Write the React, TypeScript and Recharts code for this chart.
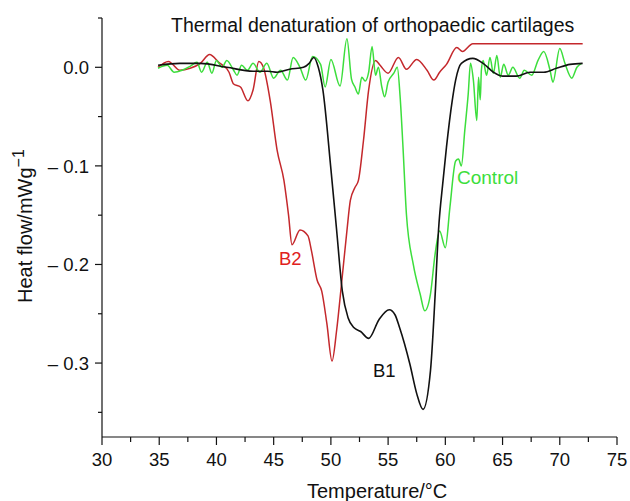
import { LineChart, Line, XAxis, YAxis } from 'recharts';

// B1 curve (black)
const b1Temp = [34.9, 36.8, 38.6, 40.9, 43.2, 44.5, 45.3, 46.4, 47.6, 48.1, 48.5, 48.9, 49.3, 50.0, 50.5, 51.0, 51.5, 52.0, 52.6, 53.3, 54.2, 55.1, 55.6, 56.0, 56.9, 57.5, 58.05, 58.7, 59.1, 59.4, 59.8, 60.1, 60.6, 60.9, 61.4, 62.4, 63.3, 64.2, 65.0, 66.2, 67.4, 68.6, 69.7, 70.9, 72.0];
const b1Flow = [0.002, 0.004, 0.004, 0.0, -0.004, -0.004, -0.005, -0.002, 0.0, 0.004, 0.010, 0.0, -0.023, -0.103, -0.165, -0.227, -0.254, -0.264, -0.268, -0.275, -0.256, -0.246, -0.251, -0.264, -0.301, -0.331, -0.347, -0.308, -0.233, -0.166, -0.115, -0.081, -0.034, -0.013, 0.004, 0.009, 0.004, -0.005, -0.009, -0.009, -0.005, -0.005, -0.001, 0.003, 0.004];

// B2 curve (red)
const b2Temp = [34.9, 35.8, 36.8, 37.7, 38.6, 39.4, 40.2, 41.1, 41.5, 42.1, 42.75, 43.2, 43.7, 44.1, 44.7, 45.3, 45.9, 46.3, 46.6, 47.3, 48.0, 48.3, 48.8, 49.2, 49.65, 50.1, 50.5, 50.96, 51.4, 51.7, 52.1, 52.4, 52.85, 53.3, 53.9, 54.3, 55.0, 55.9, 56.6, 57.5, 58.4, 59.0, 59.5, 60.1, 61.0, 61.5, 62.4, 64.0, 66.0, 68.0, 70.0, 72.0];
const b2Flow = [0.0, 0.006, -0.003, -0.001, 0.004, 0.013, 0.005, -0.005, -0.017, -0.020, -0.034, -0.023, 0.006, 0.0, -0.034, -0.084, -0.115, -0.150, -0.180, -0.165, -0.171, -0.186, -0.216, -0.227, -0.260, -0.298, -0.267, -0.216, -0.166, -0.135, -0.122, -0.115, -0.074, -0.023, 0.007, 0.002, -0.006, 0.010, -0.002, 0.008, -0.003, -0.013, -0.005, 0.003, 0.020, 0.016, 0.024, 0.024, 0.024, 0.024, 0.024, 0.024];

// Control curve (green)
const ctrlTemp = [34.9, 35.7, 36.3, 37.0, 37.7, 38.3, 38.7, 39.2, 39.6, 40.0, 40.5, 40.9, 41.5, 41.8, 42.2, 42.7, 43.2, 43.8, 44.4, 45.0, 45.6, 46.2, 46.7, 47.3, 47.8, 48.4, 49.1, 49.5, 50.0, 50.8, 51.4, 51.8, 52.1, 52.4, 52.7, 53.0, 53.3, 53.6, 53.9, 54.15, 54.45, 54.7, 55.0, 55.5, 55.8, 56.05, 56.3, 56.6, 57.2, 57.8, 58.2, 58.7, 59.1, 59.5, 60.0, 60.4, 60.9, 61.15, 61.4, 61.7, 62.0, 62.2, 62.45, 62.75, 62.9, 63.05, 63.15, 63.3, 63.6, 63.9, 64.2, 64.5, 64.8, 65.1, 65.5, 65.9, 66.5, 66.9, 67.55, 68.1, 68.6, 69.15, 69.4, 70.0, 70.45, 71.05, 71.5, 71.9];
const ctrlFlow = [-0.001, 0.002, -0.005, -0.003, 0.001, 0.005, -0.005, 0.005, -0.006, 0.007, 0.0, 0.007, -0.003, -0.008, 0.002, -0.003, 0.004, -0.005, 0.004, -0.011, -0.003, -0.013, 0.010, 0.0, -0.013, 0.011, 0.003, -0.020, 0.008, -0.019, 0.029, -0.012, -0.020, -0.027, -0.010, -0.014, -0.005, 0.021, -0.008, 0.0, -0.020, -0.030, -0.015, -0.006, 0.0, -0.030, -0.081, -0.149, -0.200, -0.230, -0.247, -0.230, -0.190, -0.166, -0.183, -0.142, -0.095, -0.093, -0.100, -0.064, -0.027, 0.004, -0.013, -0.054, -0.010, -0.033, -0.003, 0.007, -0.008, 0.010, -0.006, 0.012, -0.010, 0.003, -0.008, 0.0, -0.011, -0.003, -0.008, 0.007, 0.016, -0.003, -0.015, 0.019, 0.004, -0.011, 0.0, 0.004];

const xTicks = [30, 32.5, 35, 37.5, 40, 42.5, 45, 47.5, 50, 52.5, 55, 57.5, 60, 62.5, 65, 67.5, 70, 72.5, 75];
const yTicks = [0.05, 0, -0.05, -0.1, -0.15, -0.2, -0.25, -0.3, -0.35];

const toPoints = (ts: number[], vs: number[]) => ts.map((t, i) => ({ t, v: vs[i] }));
const b1Data = toPoints(b1Temp, b1Flow);
const b2Data = toPoints(b2Temp, b2Flow);
const ctrlData = toPoints(ctrlTemp, ctrlFlow);

const FONT = '"Liberation Sans", Arial, sans-serif';
const RED = '#c4282c';
const GREEN = '#3cde3c';

const XTick = (props: any) => {
  const { x, y, payload } = props;
  const major = Math.abs(payload.value % 5) < 1e-6;
  return (
    <g>
      <line x1={x} x2={x} y1={y} y2={y + (major ? 8 : 5)} stroke="#111" strokeWidth={1.2} />
      {major && (
        <text x={x} y={y + 29} textAnchor="middle" fontSize={18.5} fontFamily={FONT} fill="#111">
          {payload.value}
        </text>
      )}
    </g>
  );
};

const YTick = (props: any) => {
  const { x, y, payload } = props;
  const v = payload.value;
  const major = Math.abs(v * 10 - Math.round(v * 10)) < 1e-6;
  const label = Math.abs(v) < 1e-9 ? '0.0' : '– ' + Math.abs(v).toFixed(1);
  return (
    <g>
      <line x1={x - (major ? 7 : 4)} x2={x} y1={y} y2={y} stroke="#111" strokeWidth={1.2} />
      {major && (
        <text x={x - 13} y={y + 7} textAnchor="end" fontSize={18.5} fontFamily={FONT} fill="#111">
          {label}
        </text>
      )}
    </g>
  );
};

export default function App() {
  return (
    <div style={{ position: 'absolute', left: 0, top: 0, width: 630, height: 501, background: '#fff' }}>
      <LineChart width={630} height={501} margin={{ top: 18, right: 13, left: 0, bottom: 0 }}>
        <XAxis
          dataKey="t"
          type="number"
          domain={[30, 75]}
          ticks={xTicks}
          interval={0}
          tickSize={0}
          tickMargin={0}
          tickLine={false}
          tick={XTick}
          height={64}
          stroke="#111"
          strokeWidth={1.2}
        />
        <YAxis
          type="number"
          domain={[-0.375, 0.05]}
          ticks={yTicks}
          interval={0}
          tickSize={0}
          tickMargin={0}
          tickLine={false}
          tick={YTick}
          width={102}
          stroke="#111"
          strokeWidth={1.2}
        />
        <Line data={b2Data} dataKey="v" type="monotone" stroke={RED} strokeWidth={1.5} dot={false} isAnimationActive={false} />
        <Line data={ctrlData} dataKey="v" type="monotone" stroke={GREEN} strokeWidth={1.5} dot={false} isAnimationActive={false} />
        <Line data={b1Data} dataKey="v" type="monotone" stroke="#111" strokeWidth={1.6} dot={false} isAnimationActive={false} />
      </LineChart>
      <svg width={630} height={501} style={{ position: 'absolute', left: 0, top: 0, pointerEvents: 'none' }}>
        <text x={171} y={32} fontSize={19.5} fontFamily={FONT} fill="#111">
          Thermal denaturation of orthopaedic cartilages
        </text>
        <text x={279} y={265} fontSize={18.5} fontFamily={FONT} fill="#e02020">B2</text>
        <text x={373} y={377} fontSize={18.5} fontFamily={FONT} fill="#111">B1</text>
        <text x={457} y={184} fontSize={19} fontFamily={FONT} fill={GREEN}>Control</text>
        <text x={307} y={498} fontSize={20} fontFamily={FONT} fill="#111">Temperature/°C</text>
        <text transform="translate(32,303) rotate(-90)" fontSize={20} fontFamily={FONT} fill="#111">
          Heat flow/mWg<tspan dy={-8} fontSize={16}>−1</tspan>
        </text>
      </svg>
    </div>
  );
}
